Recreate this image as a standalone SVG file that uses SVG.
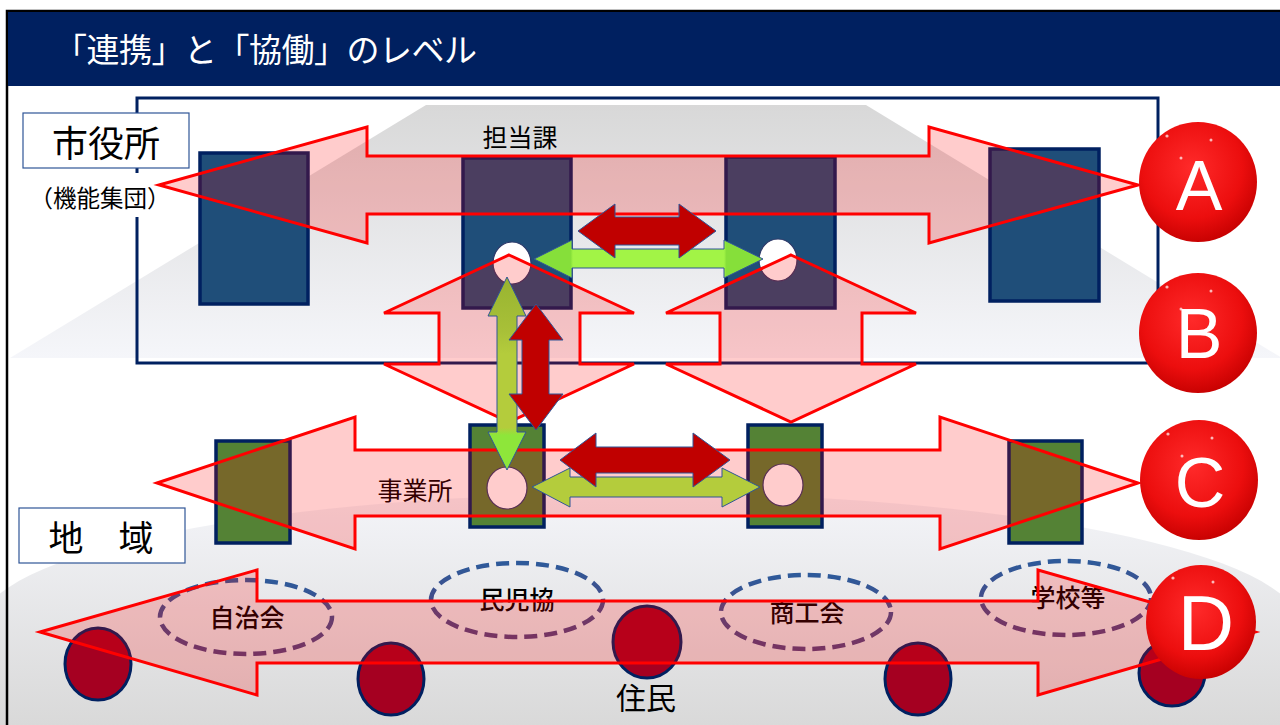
<svg xmlns="http://www.w3.org/2000/svg" width="1280" height="725" viewBox="0 0 1280 725">
<defs>
<style>
.jp{font-family:"Noto Sans CJK JP","Noto Sans CJK SC",sans-serif;}
.big{fill:#ff0000;fill-opacity:0.2;stroke:#ff0000;stroke-width:3;stroke-linejoin:miter;}
.bluebox{fill:#1f4e79;stroke:#002060;stroke-width:3.5;}
.greenbox{fill:#548235;stroke:#002060;stroke-width:3.5;}
.hole{fill:#ffffff;stroke:#2f3a6a;stroke-width:1.2;}
.resident{fill:#a50021;stroke:#002060;stroke-width:3;}
.grp{fill:none;stroke:url(#dashGrad);stroke-width:4.5;stroke-dasharray:13 7;}
.red{fill:#c00000;stroke:#2f5597;stroke-width:1;}
.label{fill:#ffffff;stroke:#2f5597;stroke-width:1.2;}
.ball{fill:url(#ballGrad);}
.ballTxt{font-family:"Liberation Sans",Arial,sans-serif;fill:#ffffff;text-anchor:middle;}
.hl{fill:#ffffff;opacity:0.7;}
</style>
<linearGradient id="topGray" x1="0" y1="0" x2="0" y2="1">
<stop offset="0" stop-color="#d8d8d8"/>
<stop offset="1" stop-color="#f5f6fa"/>
</linearGradient>
<linearGradient id="botGray" x1="0" y1="0" x2="0" y2="1">
<stop offset="0" stop-color="#f4f5f9"/>
<stop offset="1" stop-color="#d9d9d9"/>
</linearGradient>
<linearGradient id="dashGrad" x1="0" y1="0" x2="0" y2="1">
<stop offset="0" stop-color="#2e5a9a"/>
<stop offset="1" stop-color="#55407a"/>
</linearGradient>
<linearGradient id="greenTop" gradientUnits="userSpaceOnUse" x1="534" y1="0" x2="763" y2="0">
<stop offset="0" stop-color="#86df3a"/>
<stop offset="0.16" stop-color="#86df3a"/>
<stop offset="0.17" stop-color="#a2f446"/>
<stop offset="0.83" stop-color="#a2f446"/>
<stop offset="0.84" stop-color="#86df3a"/>
<stop offset="1" stop-color="#86df3a"/>
</linearGradient>
<linearGradient id="greenVert" gradientUnits="userSpaceOnUse" x1="0" y1="277" x2="0" y2="470">
<stop offset="0" stop-color="#98b430"/>
<stop offset="0.28" stop-color="#a8c038"/>
<stop offset="0.4" stop-color="#b4cc3c"/>
<stop offset="0.78" stop-color="#b4cc3c"/>
<stop offset="0.82" stop-color="#8ee63a"/>
<stop offset="1" stop-color="#8ee63a"/>
</linearGradient>
<radialGradient id="ballGrad" cx="0.45" cy="0.38" r="0.65">
<stop offset="0" stop-color="#ff2a2a"/>
<stop offset="0.65" stop-color="#ec0e0e"/>
<stop offset="1" stop-color="#c40000"/>
</radialGradient>
</defs>

<!-- background -->
<rect x="0" y="0" width="1280" height="725" fill="#ffffff"/>
<polygon points="10,358 426,105 866,105 1282,358" fill="url(#topGray)"/>
<path d="M-20,626 A660,133 0 0 1 1300,626 L1300,725 L-20,725 Z" fill="url(#botGray)"/>

<!-- header -->
<rect x="7" y="11" width="1290" height="730" fill="none" stroke="#000000" stroke-width="2.5"/>
<rect x="8" y="12" width="1272" height="74" fill="#002060"/>
<text x="54" y="62" class="jp" font-size="33" fill="#ffffff" letter-spacing="-0.5">「連携」と「協働」のレベル</text>

<!-- city hall frame -->
<rect x="137" y="98" width="1021" height="265" fill="none" stroke="#002060" stroke-width="3"/>

<!-- labels -->
<g id="label-shiyakusho">
<rect class="label" x="23" y="113" width="166" height="55"/>
<text x="106" y="157" class="jp" font-size="36" text-anchor="middle" fill="#000000">市役所</text>
</g>
<g id="label-kino">
<rect x="26" y="173" width="146" height="44" fill="#ffffff"/>
<text x="100" y="207" class="jp" font-size="23.5" text-anchor="middle" fill="#000000">（機能集団）</text>
</g>
<g id="label-chiiki">
<rect class="label" x="19" y="508" width="166" height="55"/>
<text x="101" y="551" class="jp" font-size="35" text-anchor="middle" fill="#000000">地　域</text>
</g>

<!-- city hall sections -->
<g id="section-1"><rect class="bluebox" x="200" y="153" width="108" height="151"/></g>
<g id="section-2"><rect class="bluebox" x="463" y="158" width="108" height="150"/><ellipse class="hole" cx="512" cy="263" rx="19" ry="21"/></g>
<g id="section-3"><rect class="bluebox" x="726" y="157" width="109" height="151"/><ellipse class="hole" cx="778" cy="260" rx="19" ry="21"/></g>
<g id="section-4"><rect class="bluebox" x="990" y="149" width="109" height="152"/></g>
<text x="520" y="147" class="jp" font-size="25" text-anchor="middle" fill="#000000">担当課</text>

<!-- offices -->
<g id="office-1"><rect class="greenbox" x="216" y="441" width="74" height="102"/></g>
<g id="office-2"><rect class="greenbox" x="470" y="425" width="74" height="102"/><ellipse class="hole" cx="507" cy="488" rx="20" ry="21"/></g>
<g id="office-3"><rect class="greenbox" x="748" y="425" width="74" height="102"/><ellipse class="hole" cx="783" cy="485" rx="20" ry="21"/></g>
<g id="office-4"><rect class="greenbox" x="1009" y="441" width="73" height="102"/></g>
<text x="415" y="500" class="jp" font-size="25" text-anchor="middle" fill="#000000">事業所</text>

<!-- community groups -->
<g id="group-jichikai"><ellipse class="grp" cx="246" cy="617" rx="86" ry="37"/><text x="247" y="627" class="jp" font-size="25" font-weight="500" text-anchor="middle" fill="#000000">自治会</text></g>
<g id="group-minjikyo"><ellipse class="grp" cx="517" cy="600" rx="86" ry="37"/><text x="517" y="609" class="jp" font-size="25" font-weight="500" text-anchor="middle" fill="#000000">民児協</text></g>
<g id="group-shokokai"><ellipse class="grp" cx="806" cy="612" rx="85" ry="37"/><text x="807" y="622" class="jp" font-size="25" font-weight="500" text-anchor="middle" fill="#000000">商工会</text></g>
<g id="group-gakko"><ellipse class="grp" cx="1066" cy="598" rx="85" ry="37"/><text x="1068" y="607" class="jp" font-size="25" font-weight="500" text-anchor="middle" fill="#000000">学校等</text></g>

<!-- residents -->
<g id="residents">
<ellipse class="resident" cx="98" cy="664" rx="33" ry="36"/>
<ellipse class="resident" cx="391" cy="679" rx="33" ry="36"/>
<ellipse class="resident" cx="647" cy="642" rx="34" ry="36"/>
<ellipse class="resident" cx="918" cy="679" rx="33" ry="36"/>
<ellipse class="resident" cx="1172" cy="673" rx="33" ry="33"/>
<text x="646" y="709" class="jp" font-size="30" text-anchor="middle" fill="#000000">住民</text>
</g>

<!-- connectors -->
<g id="connectors">
<path id="arrow-A" class="big" d="M159,185 L367,127 L367,156 L929,156 L929,127 L1138,185 L929,243 L929,214 L367,214 L367,243 Z"/>
<path id="arrow-B1" class="big" d="M509,255 L634,313 L580,313 L580,364 L634,364 L509,422 L384,364 L439,364 L439,313 L384,313 Z"/>
<path id="arrow-B2" class="big" d="M791,255 L916,313 L862,313 L862,364 L916,364 L791,422 L666,364 L720,364 L720,313 L666,313 Z"/>
<path id="arrow-C" class="big" d="M157,483 L355,417 L355,450 L940,450 L940,417 L1138,483 L940,549 L940,516 L355,516 L355,549 Z"/>
<path id="arrow-D" class="big" d="M40,632 L257,570 L257,601 L1038,601 L1038,570 L1255,632 L1038,695 L1038,663 L257,663 L257,695 Z"/>

<path id="green-top" fill="url(#greenTop)" stroke="#2f5597" stroke-width="1" d="M534,259 L572,240 L572,249 L724,249 L724,240 L763,259 L724,278 L724,268 L572,268 L572,278 Z"/>
<path id="red-top" class="red" d="M578,231 L615,204 L615,217 L679,217 L679,204 L716,231 L679,258 L679,245 L615,245 L615,258 Z"/>
<path id="green-vert" fill="url(#greenVert)" stroke="#2f5597" stroke-width="1" d="M507,277 L526,316 L517,316 L517,432 L526,432 L507,470 L488,432 L497,432 L497,316 L488,316 Z"/>
<path id="red-vert" class="red" d="M536,304 L563,340 L549,340 L549,394 L563,394 L536,430 L509,394 L522,394 L522,340 L509,340 Z"/>
<path id="green-low" fill="#b4cc3c" stroke="#2f5597" stroke-width="1" d="M532,487 L570,468 L570,477 L722,477 L722,468 L760,487 L722,507 L722,497 L570,497 L570,507 Z"/>
<path id="red-low" class="red" d="M560,460 L596,433 L596,447 L693,447 L693,433 L730,460 L693,487 L693,473 L596,473 L596,487 Z"/>
</g>

<!-- level balls -->
<g id="ball-A">
<ellipse class="ball" cx="1198" cy="182" rx="59" ry="60"/>
<circle class="hl" cx="1167" cy="136" r="1.6"/><circle class="hl" cx="1211" cy="140" r="1.5"/><circle class="hl" cx="1181" cy="158" r="1.5"/>
<text class="ballTxt" x="1199" y="210" font-size="70">A</text>
</g>
<g id="ball-B">
<ellipse class="ball" cx="1198" cy="333" rx="59" ry="60"/>
<circle class="hl" cx="1167" cy="287" r="1.6"/><circle class="hl" cx="1211" cy="291" r="1.5"/><circle class="hl" cx="1181" cy="309" r="1.5"/>
<text class="ballTxt" x="1199" y="358" font-size="70">B</text>
</g>
<g id="ball-C">
<ellipse class="ball" cx="1199" cy="480" rx="59" ry="60"/>
<circle class="hl" cx="1168" cy="434" r="1.6"/><circle class="hl" cx="1212" cy="438" r="1.5"/><circle class="hl" cx="1182" cy="456" r="1.5"/>
<text class="ballTxt" x="1200" y="507" font-size="70">C</text>
</g>
<g id="ball-D">
<ellipse class="ball" cx="1201" cy="622" rx="55" ry="57"/>
<circle class="hl" cx="1173" cy="578" r="1.6"/><circle class="hl" cx="1213" cy="582" r="1.5"/><circle class="hl" cx="1186" cy="598" r="1.5"/>
<text class="ballTxt" x="1206" y="650" font-size="78">D</text>
</g>
</svg>
